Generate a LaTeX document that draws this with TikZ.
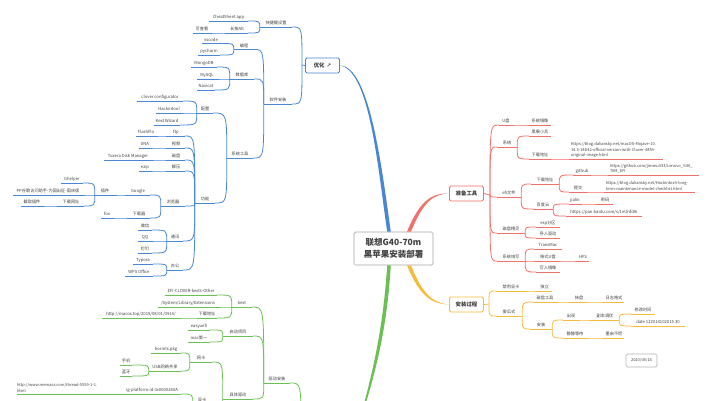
\documentclass[tikz,border=0pt]{standalone}
\usepackage{fontspec}
\setmainfont{Noto Sans CJK SC}
\newfontfamily\symfont{DejaVu Sans}
\definecolor{bl}{HTML}{4A86D4}
\definecolor{rd}{HTML}{F0706A}
\definecolor{yl}{HTML}{F4BC3C}
\definecolor{gn}{HTML}{6CBF55}
\definecolor{ink}{HTML}{404040}
\tikzset{
    lf/.style={inner xsep=0pt, inner ysep=1.3pt, anchor=south, text=ink, text height=3.6pt, text depth=0.8pt,
        font=\fontsize{4.2}{5}\selectfont},
    urltxt/.style={inner xsep=0pt, inner ysep=1.3pt, anchor=south, text=ink, align=left,
        font=\fontsize{4}{5.5}\selectfont},
    under/.style={line width=0.8pt},
    lnk/.style={to path={.. controls (\tikztostart |- \tikztotarget) .. (\tikztotarget)}},
    mainbox/.style={draw=#1, line width=0.9pt, fill=white, rounded corners=1.5pt, text=ink, minimum height=15pt,
        minimum width=34pt, inner sep=0pt, font=\fontsize{5.4}{6}\selectfont\bfseries},
}
\begin{document}
\begin{tikzpicture}[x=1pt,y=-1pt]
    \clip (0,0) rectangle (712,400);

    % main boxes
    \node[mainbox=bl] (opt) at (322.5,65.5) {优化\hspace{2pt}{\symfont\char"2197}};
    \node[mainbox=rd] (prep) at (466.5,193.5) {准备工具};
    \node[mainbox=yl] (inst) at (466.5,304.5) {安装过程};
    \node[draw=black!35, line width=0.7pt, rounded corners=1.5pt, minimum width=79pt, minimum height=33pt, inner sep=0pt,
        fill=white, text=ink, align=center, font=\fontsize{8.5}{11.7}\selectfont\bfseries] (root) at (393.5,248.5)
        {联想G40-70m\\黑苹果安装部署};
    \node[draw=black!30, line width=0.7pt, rounded corners=1.5pt, minimum width=31pt, minimum height=13pt, inner sep=0pt,
        text=ink, font=\fontsize{4}{5}\selectfont] (stamp) at (641.5,360.5) {2020/04/14};

    % free ends and fan points
    \coordinate (oFan) at (302,65);
    \coordinate (pFan) at (490,195);
    \coordinate (iFan) at (489,304);
    \coordinate (dFan) at (301,430);
    \coordinate (dEnd) at (352,445);

    % tapered trunks
    \fill[bl] (opt.east) .. controls (370,70) and (378,170) .. ([xshift=-6.3pt]root.north)
        -- ([xshift=-2.7pt]root.north) .. controls (382,170) and (370,66) .. (opt.east);
    \fill[rd] (prep.west) .. controls (432,193) and (420,200) .. ([xshift=13.5pt]root.north)
        -- ([xshift=17.5pt]root.north) .. controls (423,202) and (433,194) .. (prep.west);
    \fill[yl] (inst.west) .. controls (432,304) and (420,297) .. ([xshift=13.5pt]root.south)
        -- ([xshift=17.5pt]root.south) .. controls (423,295) and (433,303) .. (inst.west);
    \fill[gn] (dEnd) .. controls (372,380) and (383,330) .. ([xshift=-6.3pt]root.south)
        -- ([xshift=-2.7pt]root.south) .. controls (387,330) and (375,380) .. (dEnd);

    % topics: name/colour/left/right/line y/text
    \foreach \nm/\col/\xl/\xr/\y/\txt in {
        oKey/bl/260/292/27/{快捷键设置},
        oAlt/bl/226/248/33/{长按Alt},
        oCheat/bl/209/248/21/{CheatSheet.app},
        oLook/bl/193/211/33/{可查看},
        oSoft/bl/264/292/104/{软件安装},
        oCode/bl/234/254/49.5/{编程},
        oVs/bl/202/220/43.5/{vscode},
        oPy/bl/198/220/55/{pycharm},
        oDb/bl/230/254/79/{数据库},
        oMongo/bl/191/217/67/{MongoDB},
        oMy/bl/197/217/79/{MySQL},
        oNav/bl/197/215/90/{Navicat},
        oSys/bl/227/253/158/{系统工具},
        oCfg/bl/197/213/113/{配置},
        oClo/bl/137/183/101/{clover configurator},
        oHack/bl/156/182/113/{Hackintool},
        oKw/bl/154/180/125/{Kext Wizard},
        oFun/bl/195/215/203/{功能},
        oFtp/bl/167/185/136/{ftp},
        oFlx/bl/136/156/136/{FlashFlo},
        oVid/bl/167/185/148/{视频},
        oIina/bl/139/151/148/{IINA},
        oDisk/bl/167/185/160/{磁盘},
        oTux/bl/104/152/160/{Tuxera Disk Manager},
        oZip/bl/167/185/171/{解压},
        oEz/bl/139/151/171/{ezip},
        oWeb/bl/161/185/206/{浏览器},
        oGoog/bl/126/150/195/{Google},
        oDl/bl/128/150/218/{下载器},
        oFox/bl/101/113/218/{fox},
        oPlug/bl/95/115/195/{插件},
        oGh/bl/61/83/183/{Ghelper},
        oPP/bl/13/83/195/{PP谷歌访问助手-为国出征-国庆版},
        oDn/bl/58/84/206/{下载网址},
        oShot/bl/21/43/206/{截取插件},
        oTalk/bl/167/183/241/{通讯},
        oWx/bl/138/152/230/{微信},
        oQQ/bl/138/152/241/{QQ},
        oDing/bl/138/152/253/{钉钉},
        oOff/bl/167/183/270/{办公},
        oTyp/bl/133/153/264/{Typora},
        oWps/bl/125/153/276/{WPS Office},
        pUsb/rd/499/513/125/{U盘},
        pImg/rd/529/551/125/{系统镜像},
        pSys/rd/497/517/147/{系统},
        pBlk/rd/529/551/136/{黑果小兵},
        pAdr/rd/529/551/159/{下载地址},
        pEfi/rd/497/521/197/{efi文件},
        pDn/rd/531/559/184/{下载地址},
        pGit/rd/573/591/175/{github},
        pHk/rd/569/587/192/{提交},
        pBd/rd/533/553/209/{百度云},
        pJl/rd/569/581/204/{jialin},
        pPw/rd/597/613/204/{密码},
        pPan/rd/566/642/216/{https://pan.baidu.com/s/1eUhfdAi},
        pDsk/rd/497/525/233/{磁盘精灵},
        pEsp/rd/536/560/227/{esp分区},
        pImp/rd/536/560/238/{导入驱动},
        pBurn/rd/497/525/261/{系统烧写},
        pTrm/rd/534/562/249/{TransMac},
        pFmt/rd/536/560/261/{格式U盘},
        pHfs/rd/577/589/261/{HFS},
        pWrt/rd/536/560/272/{写入镜像},
        iDis/yl/496/526/291/{禁用显卡},
        iInd/yl/537/552/291/{独立},
        iEasy/yl/496/522/316/{傻瓜式},
        iDsk/yl/533/557/302/{磁盘工具},
        iWip/yl/571/587/302/{抹盘},
        iLog/yl/604/624/302/{日志格式},
        iIns/yl/530/552/329/{安装},
        iSta/yl/563/579/320/{出现},
        iCpy/yl/591/619/320/{副本调优},
        iTim/yl/631/655/314/{修改时间},
        iDat/yl/631/685/326/{date 122014102015.30},
        iWait/yl/563/587/338/{静静等待},
        iBoot/yl/604/624/338/{重启不慌},
        dDrv/gn/264/290/383/{驱动安装},
        dKxt/gn/232/252/307/{kext},
        dEfi/gn/165/217/295/{EFI-CLOVER-kexts-Other},
        dSle/gn/158/218/307/{/System/Library/Extensions},
        dAddr/gn/197/217/318/{下载地址},
        dMac/gn/102/180/318/{http://macos.top/2019/08/01/0914/},
        dBoot/gn/223/253/336/{启动项目},
        dEasy/gn/188/210/330/{easyuefi},
        dFst/gn/188/210/342/{mac第一},
        dSpec/gn/223/253/399/{具体驱动},
        dNet/gn/190/212/362/{网卡},
        dHorn/gn/151/181/353/{hornits.pkg},
        dUsb/gn/149/181/371/{USB网络共享},
        dPhone/gn/120/132/365/{手机},
        dBlue/gn/120/132/376/{蓝牙},
        dIg/gn/123/181/394/{ig-platform-id:0x0600260A},
        dGpu/gn/193/211/404/{显卡}
    } {
        \node[lf, minimum width={(\xr-\xl)*1pt}] (\nm) at ({(\xl+\xr)/2},\y) {\txt};
        \draw[under, \col] (\nm.south west) -- (\nm.south east);
    }

    % long links: name/colour/left/right/line y/text
    \foreach \nm/\col/\xl/\xr/\y/\txt in {
        pUrl/rd/571/663/159/{https://blog.daliansky.net/macOS-Mojave-10.\\14.3-18D42-official-version-with-Clover-4859-\\original-image.html},
        pGitu/rd/610/699/175/{https://github.com/jimmu333/Lenovo\_G40\_\\70M\_EFI},
        pHku/rd/606/695/192/{https://blog.daliansky.net/Hackintosh-long-\\term-maintenance-model-checklist.html},
        dMem/gn/17/123/394/{http://www.memacs.com/thread-5559-1-1.\\html}
    } {
        \node[urltxt, text width={(\xr-\xl)*1pt}] (\nm) at ({(\xl+\xr)/2},\y) {\txt};
        \draw[under, \col] (\nm.south west) -- (\nm.south east);
    }

    % connectors
    \draw[under, bl] (opt.west) -- (oFan);
    \draw[under, rd] (prep.east) -- (pFan);
    \draw[under, yl] (inst.east) -- (iFan);
    \foreach \c in {oKey,oSoft} \draw[under, bl] (oFan) to[lnk] (\c.south east);
    \foreach \c in {pUsb,pSys,pEfi,pDsk,pBurn} \draw[under, rd] (pFan) to[lnk] (\c.south west);
    \foreach \c in {iDis,iEasy} \draw[under, yl] (iFan) to[lnk] (\c.south west);
    \draw[under, gn] (dFan) to[lnk] (dDrv.south east);

    \foreach \a/\b in {oKey/oAlt,oKey/oCheat,oAlt/oLook,oSoft/oCode,oSoft/oDb,oSoft/oSys,oCode/oVs,oCode/oPy,
        oDb/oMongo,oDb/oMy,oDb/oNav,oSys/oCfg,oSys/oFun,oCfg/oClo,oCfg/oHack,oCfg/oKw,
        oFun/oFtp,oFun/oVid,oFun/oDisk,oFun/oZip,oFun/oWeb,oFun/oTalk,oFun/oOff,
        oFtp/oFlx,oVid/oIina,oDisk/oTux,oZip/oEz,oWeb/oGoog,oWeb/oDl,oDl/oFox,oGoog/oPlug,
        oPlug/oGh,oPlug/oPP,oPlug/oDn,oDn/oShot,oTalk/oWx,oTalk/oQQ,oTalk/oDing,oOff/oTyp,oOff/oWps}
        \draw[under, bl] (\a.south west) to[lnk] (\b.south east);

    \foreach \a/\b in {dDrv/dKxt,dDrv/dBoot,dDrv/dSpec,dKxt/dEfi,dKxt/dSle,dKxt/dAddr,dAddr/dMac,
        dBoot/dEasy,dBoot/dFst,dSpec/dNet,dSpec/dGpu,dNet/dHorn,dNet/dUsb,dUsb/dPhone,dUsb/dBlue,dGpu/dIg,dIg/dMem}
        \draw[under, gn] (\a.south west) to[lnk] (\b.south east);

    \foreach \a/\b in {pUsb/pImg,pSys/pBlk,pSys/pAdr,pAdr/pUrl,pEfi/pDn,pEfi/pBd,pDn/pGit,pDn/pHk,pGit/pGitu,pHk/pHku,
        pBd/pJl,pBd/pPan,pJl/pPw,pDsk/pEsp,pDsk/pImp,pBurn/pTrm,pBurn/pFmt,pBurn/pWrt,pFmt/pHfs}
        \draw[under, rd] (\a.south east) to[lnk] (\b.south west);

    \foreach \a/\b in {iDis/iInd,iEasy/iDsk,iEasy/iIns,iDsk/iWip,iWip/iLog,iIns/iSta,iIns/iWait,iSta/iCpy,
        iCpy/iTim,iCpy/iDat,iWait/iBoot}
        \draw[under, yl] (\a.south east) to[lnk] (\b.south west);
\end{tikzpicture}
\end{document}
